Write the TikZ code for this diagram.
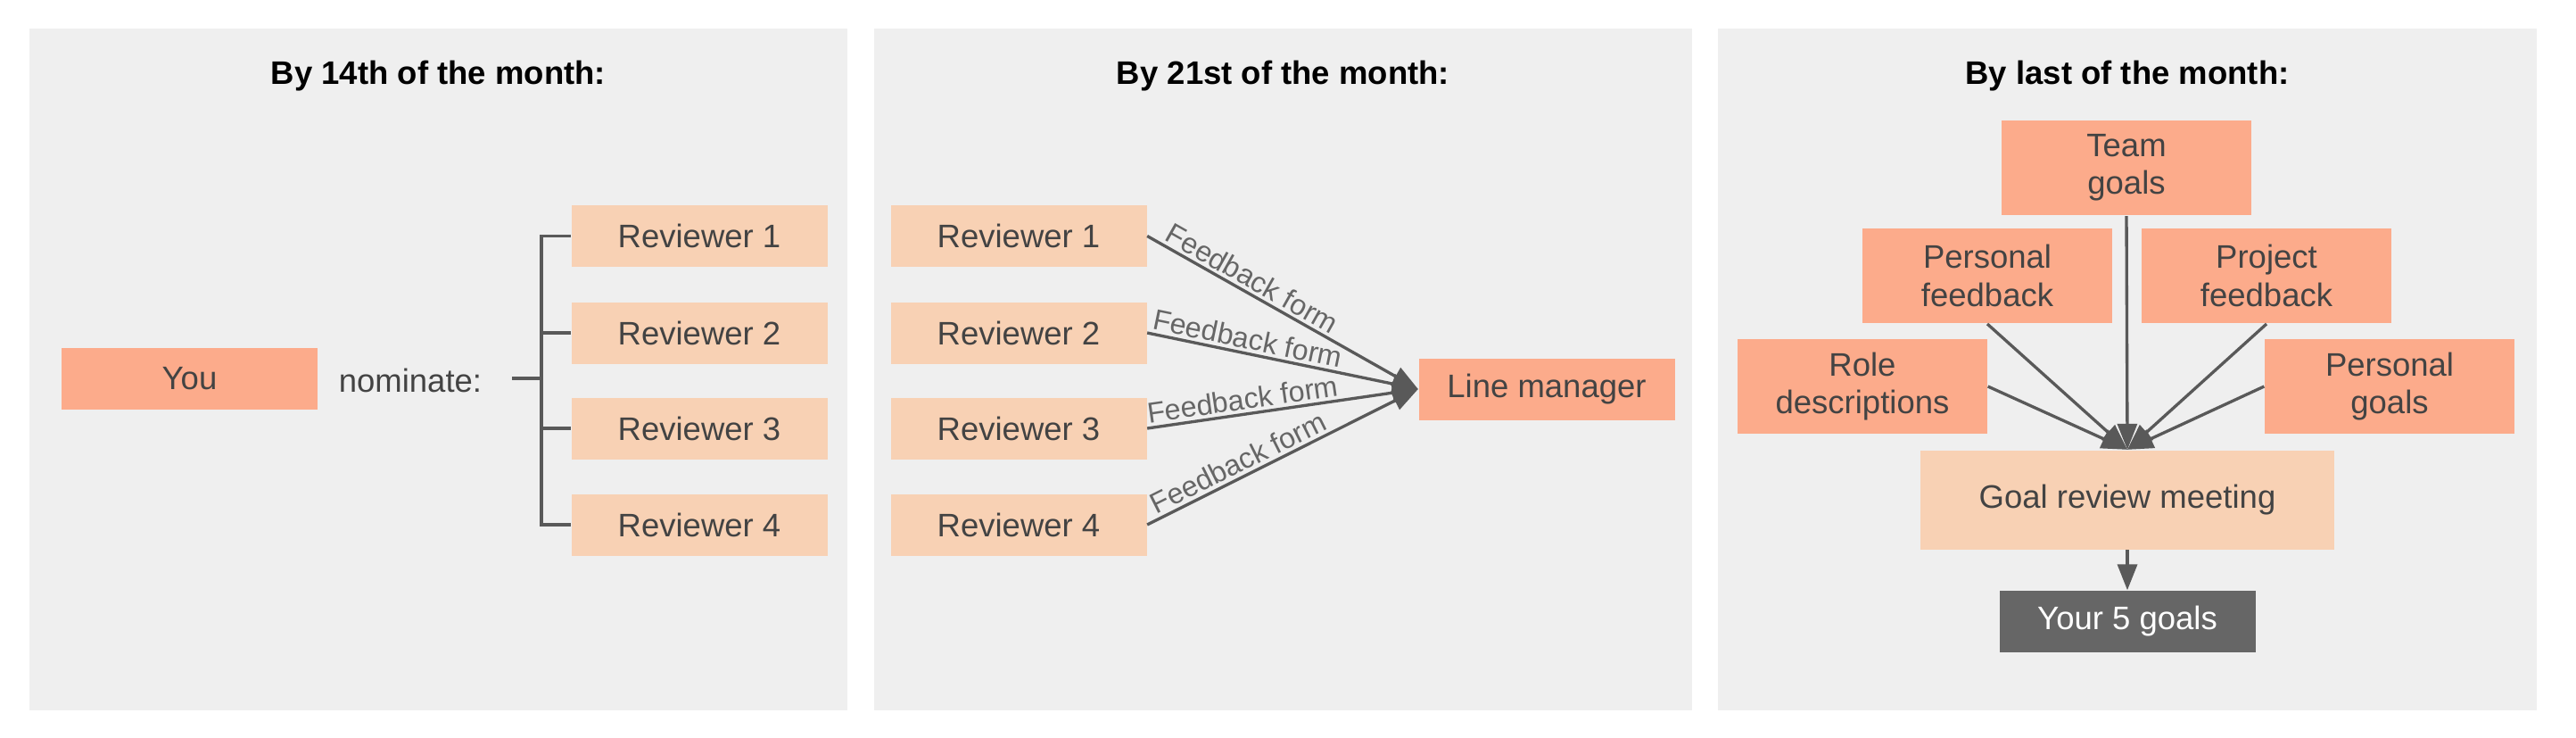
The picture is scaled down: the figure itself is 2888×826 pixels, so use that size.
\documentclass[tikz,border=0pt]{standalone}
\usepackage{fontspec}
\setmainfont{Liberation Sans}
\usetikzlibrary{arrows.meta}
\definecolor{panelbg}{HTML}{EFEFEF}
\definecolor{darkor}{HTML}{FCAB8B}
\definecolor{lightor}{HTML}{F8D1B4}
\definecolor{boxgray}{HTML}{666666}
\definecolor{txtgray}{HTML}{434343}
\definecolor{lblgray}{HTML}{666666}
\definecolor{linegray}{HTML}{595959}
\begin{document}
\begin{tikzpicture}[x=0.3pt,y=-0.3pt,
  box/.style={rectangle, inner sep=0pt, align=center, text=txtgray,
    font=\fontsize{10.95}{12.7}\selectfont},
  rv/.style={box, fill=lightor, minimum width=86.1pt, minimum height=20.7pt},
  dk/.style={box, fill=darkor, minimum width=84pt, minimum height=32pt},
  title/.style={font=\fontsize{10.95}{12.7}\selectfont\bfseries, text=black, inner sep=0pt},
  lbl/.style={font=\fontsize{9.7}{11}\selectfont, text=lblgray, inner sep=1pt, sloped, above, pos=0.36},
  conn/.style={draw=linegray, line width=1pt},
  arr/.style={conn, -{Triangle[length=8.7pt,width=6.6pt]}}
]
\useasboundingbox (0,0) rectangle (2888,826);
\fill[white] (0,0) rectangle (2888,826);
\fill[panelbg] (33,32) rectangle (950,796);
\fill[panelbg] (980,32) rectangle (1897,796);
\fill[panelbg] (1926,32) rectangle (2844,796);

% titles
\node[title] (t1) at (491.5,85) {By 14th of the month:};
\node[title] (t2) at (1438.5,85) {By 21st of the month:};
\node[title] (t3) at (2385,85) {By last of the month:};

% panel 1
\node[rv, fill=darkor] (you) at (212.5,424.5) {You};
\node[box, inner sep=0pt] (nom) at (460,426) {nominate:};
\node[rv] (a1) at (784,264.5) {Reviewer 1};
\node[rv] (a2) at (784,373) {Reviewer 2};
\node[rv] (a3) at (784,480) {Reviewer 3};
\node[rv] (a4) at (784,588) {Reviewer 4};
\coordinate (bs) at (574,424);
\coordinate (bm) at (607,424);
\draw[conn] (bs) -- (bm);
\draw[conn] (a1.west) -| (bm) |- (a4.west);
\draw[conn] (bm |- a2.west) -- (a2.west);
\draw[conn] (bm |- a3.west) -- (a3.west);

% panel 2
\node[rv] (b1) at (1142,264.5) {Reviewer 1};
\node[rv] (b2) at (1142,373) {Reviewer 2};
\node[rv] (b3) at (1142,480) {Reviewer 3};
\node[rv] (b4) at (1142,588) {Reviewer 4};
\node[rv, fill=darkor] (lm) at (1734,436) {Line manager};
\foreach \i in {1,...,4}{
  \draw[arr] (b\i.east) -- node[lbl] {Feedback form} (lm.west);
}

% panel 3
\node[dk] (tg) at (2384,188) {Team\\goals};
\node[dk] (pf) at (2228,309) {Personal\\feedback};
\node[dk] (pj) at (2541,309) {Project\\feedback};
\node[dk] (rd) at (2088,433) {Role\\descriptions};
\node[dk] (pg) at (2679,433) {Personal\\goals};
\node[box, fill=lightor, minimum width=139.2pt, minimum height=33.3pt] (gr) at (2385,560) {Goal review meeting};
\node[rv, fill=boxgray, text=white] (yg) at (2385,696.5) {Your 5 goals};
\draw[arr] (tg.south) -- (gr.north);
\draw[arr] (pf.south) -- (gr.north);
\draw[arr] (pj.south) -- (gr.north);
\draw[arr] (rd.east) -- (gr.north);
\draw[arr] (pg.west) -- (gr.north);
\draw[arr] (gr.south) -- (yg.north);
\end{tikzpicture}
\end{document}
